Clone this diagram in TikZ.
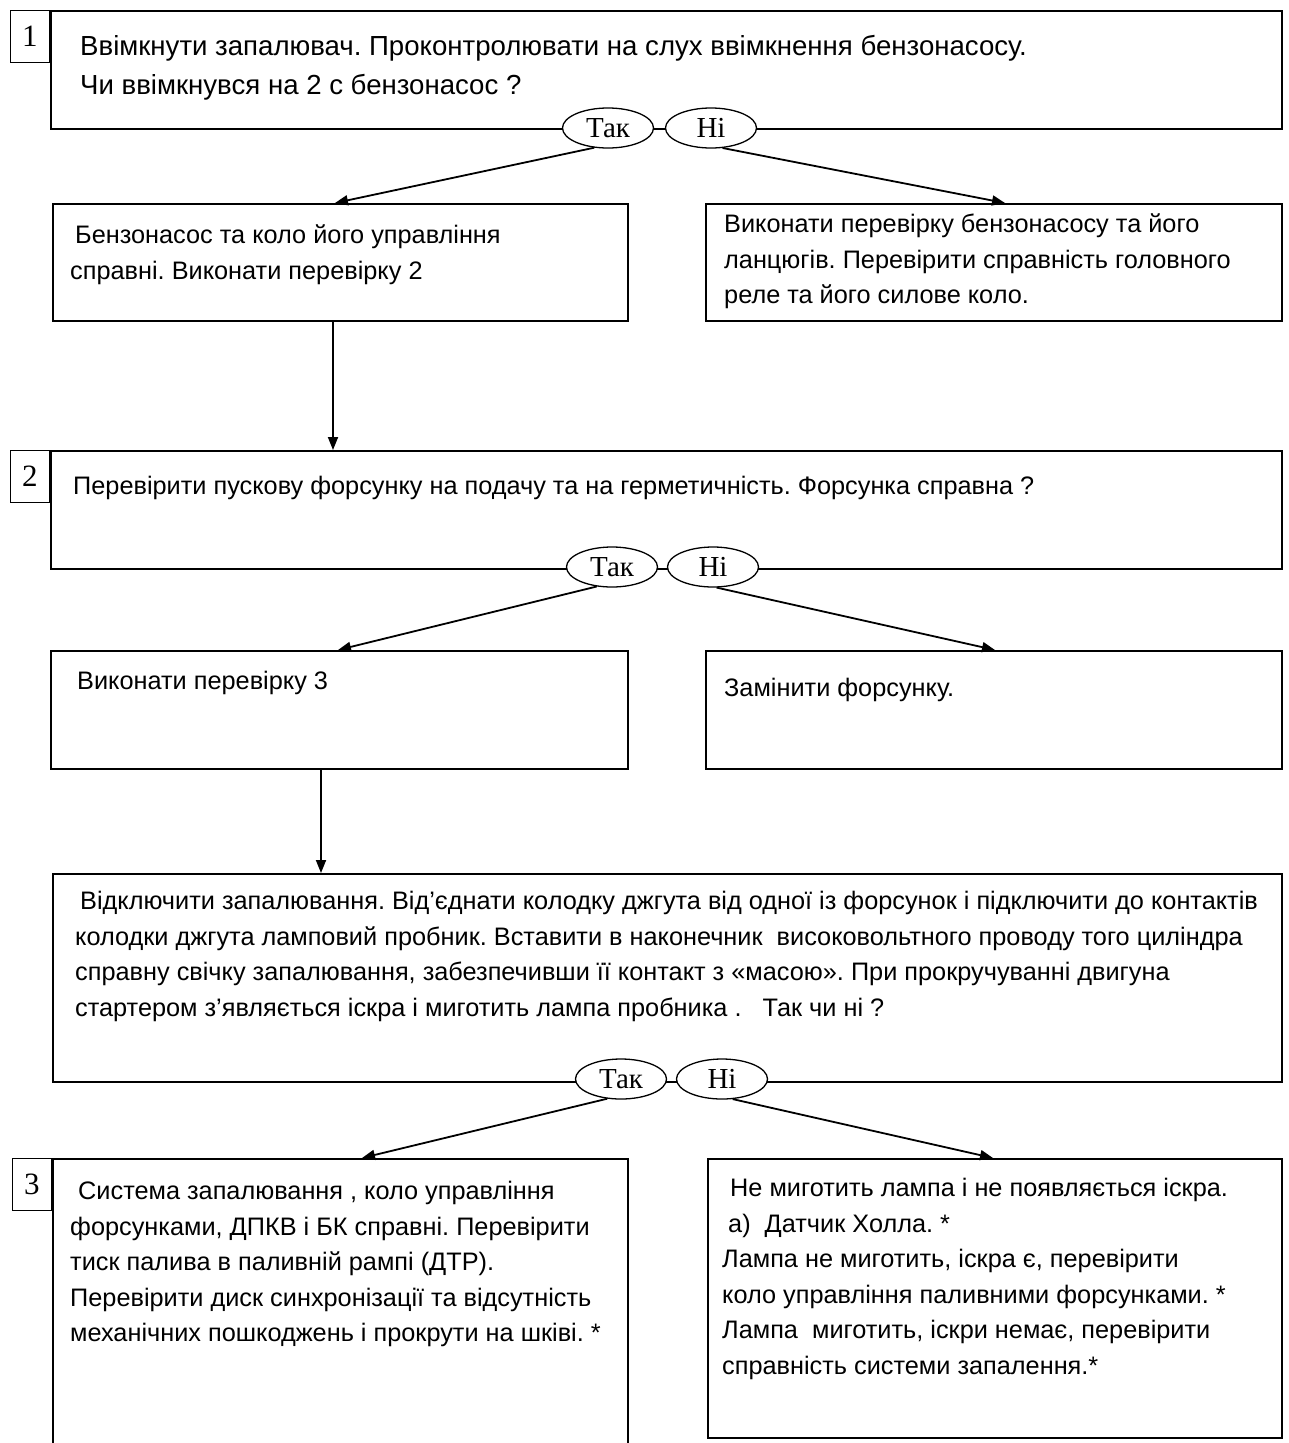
\documentclass[tikz,border=0pt]{standalone}
\usepackage{fontspec}
\setmainfont{Liberation Sans}
\newfontfamily\serifa{Liberation Serif}
\usetikzlibrary{positioning,shapes.geometric,arrows.meta}
\frenchspacing

\tikzset{
  stepbox/.style 2 args={draw, line width=1.5pt, anchor=north west, inner sep=0pt,
    minimum width=#1, minimum height=#2},
  numbox/.style={draw, line width=1.3pt, anchor=north east, inner sep=0pt,
    minimum width=39pt, minimum height=52pt, font=\serifa\fontsize{31}{31}\selectfont},
  txt/.style={anchor=north west, align=left, inner sep=0pt,
    font=\fontsize{25.3}{35.5}\selectfont},
  answer/.style={ellipse, draw, line width=1.3pt, fill=white, inner sep=0pt,
    minimum width=91pt, minimum height=40pt, font=\serifa\fontsize{29}{29}\selectfont},
  arr/.style={-{Triangle[length=13pt,width=10pt]}, line width=1.8pt}
}

\begin{document}
\begin{tikzpicture}[x=1pt, y=-1pt]
    \useasboundingbox[fill=white] (0,0) rectangle (1289,1443);

        %Boxes
        \node[stepbox={1231pt}{118pt}] (b1) at (50,10) {};
        \node[stepbox={575pt}{117pt}]  (bA) at (52,203) {};
        \node[stepbox={576pt}{117pt}]  (bB) at (705,203) {};
        \node[stepbox={1231pt}{118pt}] (b2) at (50,450) {};
        \node[stepbox={577pt}{118pt}]  (bC) at (50,650) {};
        \node[stepbox={576pt}{118pt}]  (bD) at (705,650) {};
        \node[stepbox={1229pt}{208pt}] (b4) at (52,873) {};
        \node[stepbox={575pt}{320pt}]  (bE) at (52,1158) {};
        \node[stepbox={574pt}{279pt}]  (bF) at (707,1158) {};

        %Numbers
        \node[numbox] (n1) at (b1.north west) {1};
        \node[numbox] (n2) at (b2.north west) {2};
        \node[numbox] (n3) at (bE.north west) {3};

        %Texts
        \node[txt, font=\fontsize{27.6}{39}\selectfont] (t1) [below right=25pt and 30pt of b1.north west]
          {Ввімкнути запалювач. Проконтролювати на слух ввімкнення бензонасосу.\\
           Чи ввімкнувся на 2 с бензонасос ?};
        \node[txt] (tA) [below right=22pt and 18pt of bA.north west]
          {\hspace{5pt}Бензонасос та коло його управління\\
           справні. Виконати перевірку 2};
        \node[txt] (tB) [below right=11pt and 19pt of bB.north west]
          {Виконати перевірку бензонасосу та його\\
           ланцюгів. Перевірити справність головного\\
           реле та його силове коло.};
        \node[txt] (t2) [below right=26pt and 23pt of b2.north west]
          {Перевірити пускову форсунку на подачу та на герметичність. Форсунка справна ?};
        \node[txt] (tC) [below right=21pt and 27pt of bC.north west]
          {Виконати перевірку 3};
        \node[txt] (tD) [below right=28pt and 19pt of bD.north west]
          {Замінити форсунку.};
        \node[txt] (t4) [below right=18pt and 23pt of b4.north west]
          {\hspace{5pt}Відключити запалювання. Від’єднати колодку джгута від одної із форсунок і підключити до контактів\\
           колодки джгута ламповий пробник. Вставити в наконечник\ \ високовольтного проводу того циліндра\\
           справну свічку запалювання, забезпечивши її контакт з «масою». При прокручуванні двигуна\\
           стартером з’являється іскра і миготить лампа пробника .\ \ \ Так чи ні ?};
        \node[txt] (tE) [below right=23pt and 18pt of bE.north west]
          {\hspace{8pt}Система запалювання , коло управління\\
           форсунками, ДПКВ і БК справні. Перевірити\\
           тиск палива в паливній рампі (ДТР).\\
           Перевірити диск синхронізації та відсутність\\
           механічних пошкоджень і прокрути на шківі. *};
        \node[txt] (tF) [below right=20pt and 15pt of bF.north west]
          {\hspace{8pt}Не миготить лампа і не появляється іскра.\\
           \hspace{6pt}а)\ \ Датчик Холла. *\\
           Лампа не миготить, іскра є, перевірити\\
           коло управління паливними форсунками. *\\
           Лампа\ \ миготить, іскри немає, перевірити\\
           справність системи запалення.*};

        %Answers
        \node[answer] (tak1) at (608,128) {Так};
        \node[answer] (ni1)  at (711,128) {Ні};
        \node[answer] (tak2) at (612,567) {Так};
        \node[answer] (ni2)  at (713,567) {Ні};
        \node[answer] (tak3) at (621,1079) {Так};
        \node[answer] (ni3)  at (722,1079) {Ні};

        %Arrows
        \draw[arr] (tak1.-125) -- ([xshift=283pt]bA.north west);
        \draw[arr] (ni1.-60) -- ([xshift=300pt]bB.north west);
        \draw[arr] ([xshift=281pt]bA.south west) -- ([xshift=281pt]bA.south west |- b2.north);
        \draw[arr] (tak2.-128) -- ([xshift=288pt]bC.north west);
        \draw[arr] (ni2.-80) -- ([xshift=290pt]bD.north west);
        \draw[arr] ([xshift=271pt]bC.south west) -- ([xshift=271pt]bC.south west |- b4.north);
        \draw[arr] (tak3.-125) -- ([xshift=310pt]bE.north west);
        \draw[arr] (ni3.-62) -- ([xshift=286pt]bF.north west);

\end{tikzpicture}
\end{document}
